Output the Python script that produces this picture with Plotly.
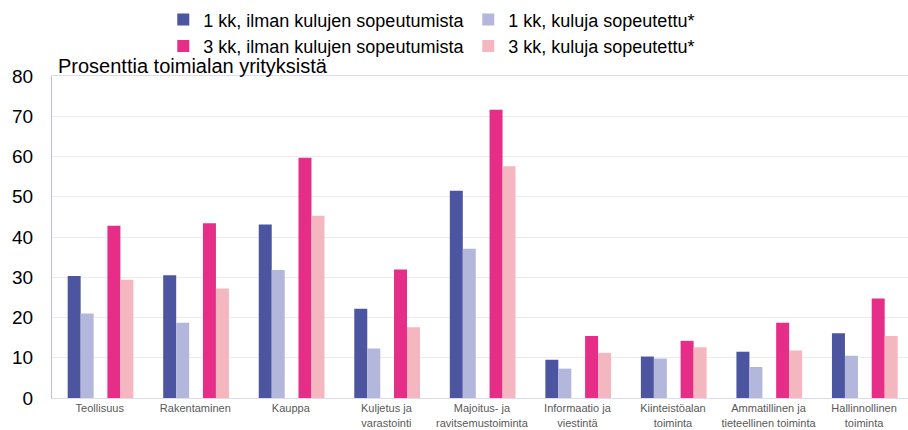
import plotly.graph_objects as go

categories = ["Teollisuus", "Rakentaminen", "Kauppa", "Kuljetus ja<br>varastointi",
              "Majoitus- ja<br>ravitsemustoiminta", "Informaatio ja<br>viestintä",
              "Kiinteistöalan<br>toiminta", "Ammatillinen ja<br>tieteellinen toiminta",
              "Hallinnollinen<br>toiminta"]

kk1_ilman = [30.3, 30.5, 43.1, 22.2, 51.5, 9.5, 10.3, 11.5, 16.1]
kk1_sopeutettu = [21.0, 18.7, 31.8, 12.3, 37.1, 7.3, 9.8, 7.7, 10.5]
kk3_ilman = [42.8, 43.4, 59.7, 31.9, 71.6, 15.4, 14.2, 18.7, 24.7]
kk3_sopeutettu = [29.4, 27.2, 45.3, 17.6, 57.6, 11.2, 12.6, 11.8, 15.4]

series_names = ["1 kk, ilman kulujen sopeutumista", "1 kk, kuluja sopeutettu*",
                "3 kk, ilman kulujen sopeutumista", "3 kk, kuluja sopeutettu*"]
series_values = [kk1_ilman, kk1_sopeutettu, kk3_ilman, kk3_sopeutettu]
colors = ["#4b55a0", "#b3b7dc", "#e62e89", "#f5b7bf"]
offsets = [-0.336, -0.2, 0.08, 0.216]
bar_width = 0.136

fig = go.Figure()
for name, vals, col, off in zip(series_names, series_values, colors, offsets):
    fig.add_trace(go.Bar(
        x=categories, y=vals, name=name,
        marker=dict(color=col, line=dict(width=0)),
        width=bar_width, offset=off,
    ))

font_family = "Liberation Sans, Arial, sans-serif"

fig.update_layout(
    width=908, height=430,
    margin=dict(l=52, r=0, t=76, b=32, autoexpand=False),
    paper_bgcolor="white", plot_bgcolor="white",
    barmode="overlay",
    font=dict(family=font_family, color="#000000"),
    showlegend=True,
    legend=dict(
        orientation="h", x=0.13, xanchor="left", y=1.232, yanchor="top",
        font=dict(size=18, color="#000000", family=font_family),
        entrywidth=260, entrywidthmode="pixels",
        itemsizing="constant", bgcolor="rgba(0,0,0,0)",
    ),
    xaxis=dict(
        type="category", range=[-0.5, 8.46], automargin=False,
        showline=True, linecolor="#dcdcee", linewidth=1, mirror=True,
        showgrid=False, ticks="",
        tickfont=dict(size=11, color="#595959", family=font_family),
    ),
    yaxis=dict(
        range=[0, 80], dtick=10, automargin=False,
        showline=True, linecolor="#b8bce2", linewidth=1,
        showgrid=True, gridcolor="#ececec", gridwidth=1,
        zeroline=False, ticks="",
        tickfont=dict(size=19, color="#000000", family=font_family),
        ticklabelstandoff=14,
    ),
    annotations=[dict(
        text="Prosenttia toimialan yrityksistä",
        xref="paper", yref="paper", x=0, y=1, xanchor="left", yanchor="bottom",
        xshift=4, yshift=-3, showarrow=False,
        font=dict(size=20, color="#000000", family=font_family),
    )],
)

fig.write_html("out.html", post_script="document.body.style.margin='0';",
               config={"displayModeBar": False})
